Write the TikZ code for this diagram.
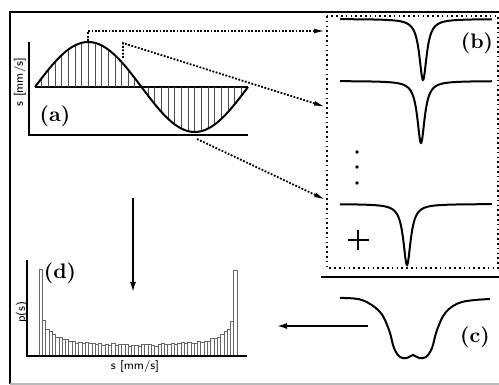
\documentclass[tikz,border=0pt]{standalone}
\usepackage{xcolor}
\usepackage{amsmath}
\usetikzlibrary{calc}
\usetikzlibrary{positioning,arrows.meta}
\tikzset{
    frameline/.style={line width=0.9pt},
    axisline/.style={line width=0.8pt},
    curve/.style={line width=1pt},
    hatch/.style={line width=0.35pt, black!70},
    dotarrow/.style={line width=0.9pt, dash pattern=on 0.9pt off 0.8pt,
        -{Latex[length=6pt,width=2.4pt]}},
    dotbox/.style={line width=0.8pt, dash pattern=on 0.8pt off 1.6pt},
    solidarrow/.style={line width=0.8pt, -{Latex[length=5pt,width=3pt]}},
    histbar/.style={line width=0.3pt, draw=black!60, fill=white},
    panel/.style={font=\fontsize{10.5}{12}\selectfont\bfseries, inner sep=0pt},
    axlabel/.style={font=\fontsize{6}{7}\selectfont\sffamily, inner sep=0pt}
}

\begin{document}
\begin{tikzpicture}[x=0.5pt,y=-0.5pt]
    \useasboundingbox (0,0) rectangle (499,385);
    % frame
    \draw[frameline] (499,12) -- (10,12) -- (10,384);
    \draw[gray!55, line width=0.6pt] (10,384) -- (499,384);

    % (a) sampled sine
    \draw[axisline] (29,42) -- (29,135) -- (248,135);
    \draw[line width=0.6pt] (35,87) -- (248,87);
    \foreach \k in {1,...,31} {
        \pgfmathsetmacro\xx{35+\k*213/32}
        \draw[hatch] (\xx,87) -- (\xx,{87-45*sin(1.69014*(\xx-35))});
    }
    \draw[curve] plot[domain=35:248, samples=120] (\x,{87-45*sin(1.69014*(\x-35))});
    \node[axlabel, rotate=90] (alab) at (20,82) {s [mm/s]};
    \node[panel] (a) at (55,116) {(a)};

    % (b) single lines
    \draw[dotbox] (327,16) rectangle (498,268);
    \draw[axisline] (321,277) -- (499,277);
    \draw[curve] plot[domain=340:492, samples=300] (\x,{19+61*20/((\x-423)^2+20)});
    \draw[curve] plot[domain=340:492, samples=300] (\x,{81+62*20/((\x-421)^2+20)});
    \draw[curve] plot[domain=340:492, samples=300] (\x,{204+61*20/((\x-407)^2+20)});
    \foreach \yy in {152,167,183}
        \fill (357,\yy) circle[radius=0.9pt];
    \draw[line width=0.6pt] (348,240) -- (369,240) (358,230) -- (358,250);
    \node[panel] (b) at (477,43) {(b)};

    % arrows from (a) to (b)
    \coordinate (apeak) at (88,41);
    \coordinate (amid) at (123,58);
    \coordinate (atrough) at (197,139);
    \coordinate (bin1) at (326,31);
    \coordinate (bin2) at (326,107);
    \coordinate (bin3) at (326,200);
    \draw[dotarrow] (apeak) |- (bin1);
    \draw[dotarrow] (amid) -- (123,43) -- (bin2);
    \draw[dotarrow] (atrough) -- (bin3);

    % (c) sum
    \draw[curve] plot[smooth, tension=0.6] coordinates {
        (340,298) (362,300) (380,312) (389,330) (394,348) (400,357) (407,358)
        (413,355) (419,358) (426,357) (432,348) (437,330) (446,312) (462,302) (490,299)};
    \node[panel] (c) at (475,337) {(c)};

    % (d) histogram
    \draw[axisline] (27,260) -- (27,356) -- (247,356);
    \foreach \i in {0,...,59} {
        \pgfmathsetmacro\ua{-1+\i/30}
        \pgfmathsetmacro\ub{min(1,\ua+1/30)}
        \pgfmathsetmacro\hh{min(88,11*(asin(\ub)-asin(\ua))/1.9099+1.2*rand)}
        \draw[histbar] ({39+\i*3.3},356) rectangle ({39+(\i+1)*3.3},{356-\hh});
    }
    \draw[axisline] (27,356) -- (247,356);
    \node[axlabel, rotate=90] (dlab) at (22,312) {p(s)};
    \node[axlabel] (slab) at (135,367) {s [mm/s]};
    \node[panel] (d) at (60,273) {(d)};

    % process arrows
    \coordinate (dtop) at (133,198);
    \coordinate (dbot) at (133,292);
    \coordinate (cright) at (368,326);
    \coordinate (cleft) at (277,326);
    \draw[solidarrow] (dtop) -- (dbot);
    \draw[solidarrow] (cright) -- (cleft);
\end{tikzpicture}
\end{document}
